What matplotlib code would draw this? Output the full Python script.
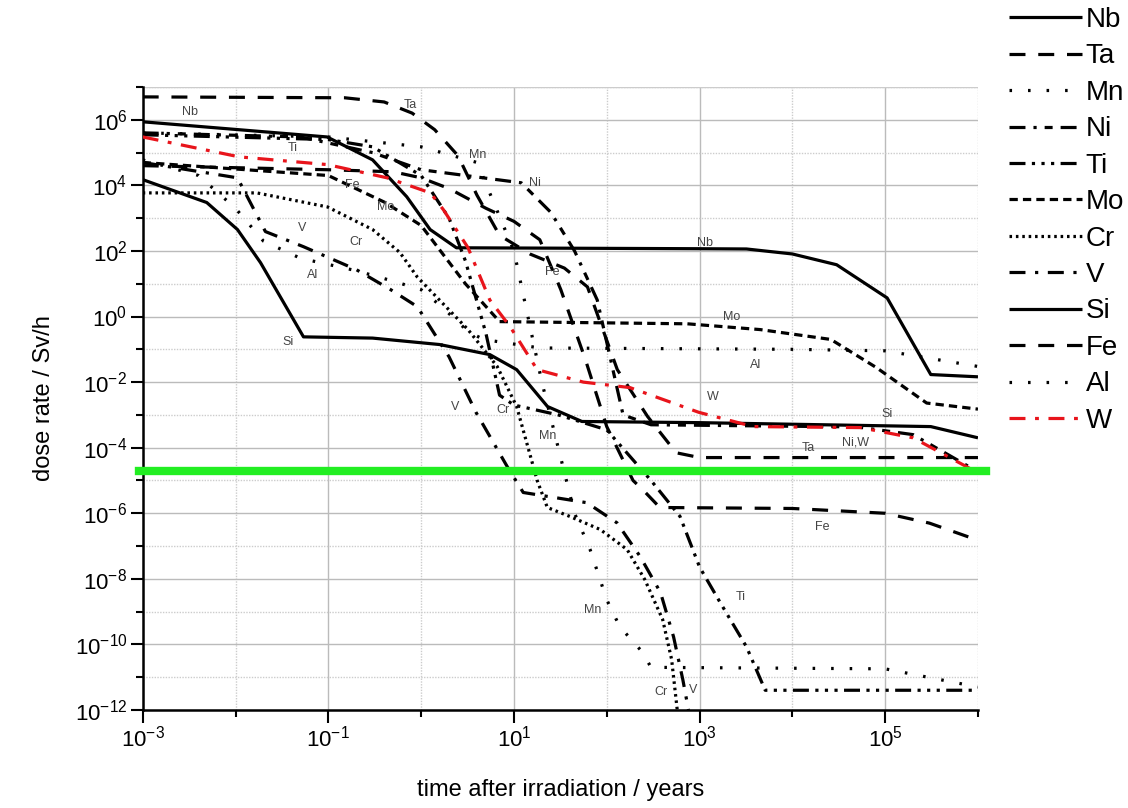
import matplotlib
matplotlib.use("Agg")
import matplotlib.pyplot as plt
import numpy as np

plt.rcParams["font.family"] = ["Liberation Sans", "DejaVu Sans"]
plt.rcParams["mathtext.fontset"] = "custom"
plt.rcParams["mathtext.rm"] = "Liberation Sans"
plt.rcParams["mathtext.it"] = "Liberation Sans"

# ---------------- data ----------------
nb_t = [1e-3, 0.097, 0.3, 0.7, 1.25, 2.4, 1e3, 3.2e3, 1e4, 3e4, 1.05e5, 3.1e5, 1e6]
nb_d = [8.7e5, 3e5, 6e4, 4.5e3, 450, 125, 117, 115, 81, 38, 3.7, 1.7e-2, 1.45e-2]

ta_t = [1e-3, 0.15, 0.4, 0.8, 1.4, 2.5, 4, 7, 15, 35, 62, 130, 275, 560, 1000, 1e6]
ta_d = [5e6, 4.7e6, 3.5e6, 1.6e6, 5e5, 8e4, 5e3, 3e2, 80, 30, 8, 2.4e-2, 9e-4, 7e-5, 5e-5, 5e-5]

mn_t = [1e-3, 0.1, 1, 4, 10, 20, 30, 45, 66, 100, 138, 240, 300, 1e5, 1e6]
mn_d = [4e5, 3e5, 1.5e5, 5e4, 1e2, 1e-2, 1e-4, 1e-6, 8e-8, 2.3e-9, 3.5e-10, 6e-11, 2e-11, 1.8e-11, 5e-12]

ni_t = [1e-3, 0.05, 0.3, 1, 3, 12, 25, 45, 79, 150, 300, 5e4, 2e5, 9.5e5, 1e6]
ni_d = [4e5, 3e5, 1e5, 3e4, 2e4, 1.2e4, 1.5e3, 1e2, 3.2, 1e-3, 5e-4, 4.3e-4, 2.5e-4, 2e-5, 1.8e-5]

ti_t = [1e-3, 0.1, 0.3, 1, 2, 3, 5, 7, 10, 30, 100, 300, 616, 1000, 1650, 3200, 5100, 1e6]
ti_d = [3.5e5, 2.5e5, 1.5e5, 2e4, 1e3, 50, 0.3, 4e-3, 2e-3, 1e-3, 3.5e-4, 1e-5, 8e-7, 2.3e-8, 2e-9, 8.5e-11, 4e-12, 4e-12]

mo_t = [1e-3, 0.1, 0.41, 1, 3, 7, 740, 4.5e3, 2.6e4, 8e4, 2.8e5, 1e6]
mo_d = [5e4, 2e4, 3e3, 6e2, 1e1, 7e-1, 6e-1, 4e-1, 2e-1, 2.8e-2, 2.3e-3, 1.5e-3]

cr_t = [1e-3, 0.017, 0.098, 0.3, 0.59, 0.91, 3.2, 6.6, 10.7, 17.8, 22.9, 40, 85, 166, 257, 400, 500, 575]
cr_d = [5.9e3, 5.9e3, 2.2e3, 450, 90, 16, 0.4, 3e-2, 1.8e-3, 1e-5, 1.5e-6, 8e-7, 3.2e-7, 7.8e-8, 9.5e-9, 5.8e-10, 3.5e-11, 1e-12]

v_t = [1e-3, 0.0105, 0.021, 0.054, 0.2, 0.47, 0.91, 2.0, 3.9, 8.5, 12.6, 61, 129, 229, 380, 525, 660, 760]
v_d = [5e4, 1.7e4, 390, 135, 27, 6.6, 2, 5.9e-2, 1.2e-3, 2.6e-5, 4.3e-6, 2.1e-6, 5.1e-7, 4.8e-8, 3.8e-9, 1.7e-10, 8.5e-12, 1e-12]

si_t = [1e-3, 4.9e-3, 1.05e-2, 1.86e-2, 5.4e-2, 0.3, 1.58, 5.5, 10.7, 23, 54, 1e3, 3.1e5, 1e6]
si_d = [1.5e4, 3e3, 450, 44, 0.24, 0.22, 0.14, 6.9e-2, 2.4e-2, 1.8e-3, 6.3e-4, 5.8e-4, 4.4e-4, 2e-4]

fe_t = [1e-3, 0.1, 0.5, 1, 2, 5, 10, 19, 32, 59, 100, 192, 245, 373, 1e4, 1e5, 3e5, 1e6]
fe_d = [4e4, 3e4, 2.6e4, 1.7e4, 8e3, 2e3, 8e2, 2.2e2, 6.6, 4.8e-2, 4.4e-4, 1e-5, 5.2e-6, 1.5e-6, 1.4e-6, 1e-6, 5e-7, 1.5e-7]

al_t = [1e-3, 4e-3, 0.01, 0.02, 0.05, 0.2, 0.5, 1, 1.7, 3.2, 4.7, 19, 1e4, 1e5, 1e6]
al_d = [6e4, 2e4, 2e3, 2e2, 60, 25, 12, 6.6, 1.9, 0.35, 0.2, 0.11, 0.1, 9e-2, 3e-2]

w_t = [1e-3, 0.011, 0.098, 0.43, 1.26, 1.74, 3.2, 5.5, 9.1, 17.8, 56, 178, 980, 3.8e3, 5.4e4, 2e5, 7.6e5, 9.3e5]
w_d = [3e5, 7.4e4, 4.3e4, 1.7e4, 5.9e3, 1.8e3, 126, 3.2, 0.49, 2.4e-2, 1e-2, 6.8e-3, 1.2e-3, 4.4e-4, 4.1e-4, 2e-4, 2.6e-5, 1.9e-5]

limit = 1.9e-5

series = ["Nb", "Ta", "Mn", "Ni", "Ti", "Mo", "Cr", "V", "Si", "Fe", "Al", "W"]
x_ticks = [1e-3, 1e-2, 1e-1, 1e0, 1e1, 1e2, 1e3, 1e4, 1e5, 1e6]
y_ticks = [10.0 ** e for e in range(-12, 8)]

labels = [
    ("Nb", 3.2e-3, 1.7e6), ("Ta", 0.76, 2.9e6), ("Mn", 4.1, 8.5e4), ("Ni", 17, 1.2e4),
    ("Ti", 0.041, 1.4e5), ("Fe", 0.18, 1.05e4), ("Mo", 0.41, 2.2e3), ("V", 0.052, 500),
    ("Cr", 0.2, 190), ("Al", 0.067, 19), ("Nb", 1150, 178), ("Fe", 26, 23),
    ("Si", 0.037, 0.17), ("Mo", 2.2e3, 1.0), ("Al", 4e3, 3.4e-2), ("W", 1.4e3, 3.5e-3),
    ("Si", 1.05e5, 1.1e-3), ("Cr", 7.6, 1.4e-3), ("V", 2.3, 1.8e-3), ("Mn", 23, 2.2e-4),
    ("Ta", 1.5e4, 1e-4), ("Ni,W", 4.8e4, 1.4e-4), ("Fe", 2.1e4, 3.9e-7), ("Ti", 2.8e3, 2.7e-9),
    ("Mn", 71, 1.1e-9), ("Cr", 380, 3.6e-12), ("V", 850, 4.2e-12),
]

# ---------------- styles ----------------
LW = 2.3
styles = {
    "Nb": dict(color="black", ls="-"),
    "Ta": dict(color="black", ls=(0, (5, 4))),
    "Mn": dict(color="black", ls=(0, (0.8, 5))),
    "Ni": dict(color="black", ls=(0, (5, 2.5, 1, 2.5, 2.5, 2.5))),
    "Ti": dict(color="black", ls=(0, (5, 2, 1, 2, 1, 2, 1, 2))),
    "Mo": dict(color="black", ls=(0, (2.6, 1.6))),
    "Cr": dict(color="black", ls=(0, (0.8, 1.2))),
    "V": dict(color="black", ls=(0, (5, 3, 1, 3))),
    "Si": dict(color="black", ls="-"),
    "Fe": dict(color="black", ls=(0, (5, 4))),
    "Al": dict(color="black", ls=(0, (0.8, 5))),
    "W": dict(color="#e8141b", ls=(0, (5, 3, 1.2, 3))),
}
data = {
    "Nb": (nb_t, nb_d), "Ta": (ta_t, ta_d), "Mn": (mn_t, mn_d), "Ni": (ni_t, ni_d),
    "Ti": (ti_t, ti_d), "Mo": (mo_t, mo_d), "Cr": (cr_t, cr_d), "V": (v_t, v_d),
    "Si": (si_t, si_d), "Fe": (fe_t, fe_d), "Al": (al_t, al_d), "W": (w_t, w_d),
}

fig = plt.figure(figsize=(11.28, 8.08), dpi=100)
ax = fig.add_axes([0.1265, 0.1213, 0.7405, 0.7710])

handles = []
for name in series:
    t, d = data[name]
    h, = ax.plot(t, d, lw=LW, label=name, solid_capstyle="butt", dash_capstyle="butt",
                 zorder=3, **styles[name])
    handles.append(h)

ax.axhline(limit, xmin=-0.004, xmax=1.01, color="#22ee22", lw=6, clip_on=False, zorder=4)

ax.set_xscale("log")
ax.set_yscale("log")
ax.set_xlim(1e-3, 1e6)
ax.set_ylim(1e-12, 1e7)

ax.set_xticks(x_ticks)
ax.set_yticks(y_ticks)
ax.xaxis.set_minor_locator(matplotlib.ticker.NullLocator())
ax.yaxis.set_minor_locator(matplotlib.ticker.NullLocator())

def fmt(v):
    e = int(round(np.log10(v)))
    return r"$\mathregular{10^{%d}}$" % e

xl = [fmt(v) if int(round(np.log10(v))) % 2 != 0 else "" for v in x_ticks]
yl = [fmt(v) if (int(round(np.log10(v))) % 2 == 0 and v < 1e7) else "" for v in y_ticks]
ax.set_xticklabels(xl)
ax.set_yticklabels(yl)

ax.tick_params(axis="both", direction="out", length=5, width=1.5, labelsize=16, pad=6)
for i, tl in enumerate(ax.xaxis.get_major_ticks()):
    if int(round(np.log10(x_ticks[i]))) % 2 != 0:
        tl.tick1line.set_markersize(9)
for i, tl in enumerate(ax.yaxis.get_major_ticks()):
    if int(round(np.log10(y_ticks[i]))) % 2 == 0:
        tl.tick1line.set_markersize(9)

# grid: labelled decades solid, others dotted
for v in x_ticks:
    if int(round(np.log10(v))) % 2 != 0:
        ax.axvline(v, color="#bbbbbb", lw=1.0, zorder=1)
    else:
        ax.axvline(v, color="#cccccc", lw=1.0, ls=(0, (1, 1)), zorder=1)
for v in y_ticks:
    if int(round(np.log10(v))) % 2 == 0:
        ax.axhline(v, color="#bbbbbb", lw=1.0, zorder=1)
    else:
        ax.axhline(v, color="#cccccc", lw=1.0, ls=(0, (1, 1)), zorder=1)
ax.axhline(1e7, color="#cccccc", lw=1.0, zorder=1)

for s in ["top", "right"]:
    ax.spines[s].set_visible(False)
for s in ["left", "bottom"]:
    ax.spines[s].set_linewidth(1.8)

for txt, x, y in labels:
    ax.text(x, y, txt, fontsize=9, color="#444444", ha="center", va="center", zorder=5)

ax.set_xlabel("time after irradiation / years", fontsize=17, labelpad=20)
ax.set_ylabel("dose rate / Sv/h", fontsize=17, labelpad=14)

fig.legend(handles=handles, labels=series, loc="upper left",
           bbox_to_anchor=(0.885, 1.005), frameon=False, fontsize=20,
           handlelength=2.6, handletextpad=0.15, labelspacing=0.375,
           borderaxespad=0.0)

fig.savefig("out.png", dpi=100)
